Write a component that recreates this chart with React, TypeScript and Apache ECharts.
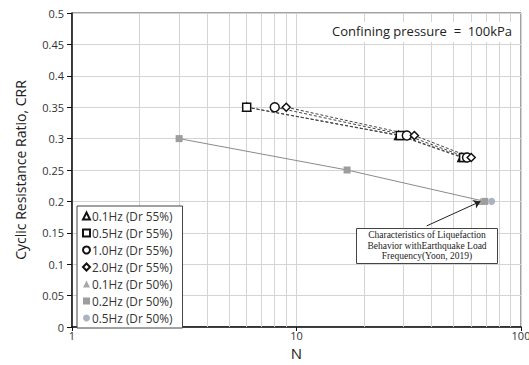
import React, { useEffect, useRef } from "react";
import * as echarts from "echarts";

const seriesNames = [
  "0.1Hz (Dr 55%)",
  "0.5Hz (Dr 55%)",
  "1.0Hz (Dr 55%)",
  "2.0Hz (Dr 55%)",
  "0.1Hz (Dr 50%)",
  "0.2Hz (Dr 50%)",
  "0.5Hz (Dr 50%)",
];

const tri55: [number, number][] = [[6, 0.35], [28.5, 0.305], [54.5, 0.27]];
const sq55: [number, number][] = [[6, 0.35], [29, 0.305], [55.5, 0.27]];
const cir55: [number, number][] = [[8, 0.35], [31, 0.305], [57.5, 0.27]];
const dia55: [number, number][] = [[9, 0.35], [33.5, 0.305], [60, 0.27]];
const tri50: [number, number][] = [[66, 0.2]];
const sq50: [number, number][] = [[3, 0.3], [16.8, 0.25], [69, 0.2]];
const cir50: [number, number][] = [[74, 0.2]];

const minorGridX = [2, 3, 4, 5, 6, 7, 8, 9, 20, 30, 40, 50, 60, 70, 80, 90];
const xTickLabels = ["1", "10", "100"];
const arrowFrom: [number, number] = [38, 0.161];
const arrowTo: [number, number] = [66, 0.2];
const annotationLines = [
  "Characteristics of Liquefaction",
  "Behavior withEarthquake Load",
  "Frequency(Yoon, 2019)",
];
const noteText = "Confining pressure  =  100kPa";

export default function App() {
  const ref = useRef<HTMLDivElement>(null);
  useEffect(() => {
    if (!ref.current) return;
    const chart = echarts.init(ref.current, undefined, { renderer: "svg" });
    const font = "Open Sans";
    const open = (sym: string, size: number, data: [number, number][], name: string) => ({
      name,
      type: "line",
      data,
      symbol: sym,
      symbolSize: size,
      showSymbol: true,
      itemStyle: { color: "#ffffff", borderColor: "#111", borderWidth: 1.5 },
      lineStyle: { color: "#444", width: 1, type: [3, 2] },
      z: 5,
    });
    const filled = (sym: string, size: number, color: string, data: [number, number][], name: string) => ({
      name,
      type: "line",
      data,
      symbol: sym,
      symbolSize: size,
      itemStyle: { color, borderWidth: 0 },
      lineStyle: { color: "#8a8a8a", width: 1 },
      z: 4,
    });
    chart.setOption({
      animation: false,
      grid: {
        left: 72,
        right: 8,
        top: 13,
        bottom: 38,
        show: true,
        borderColor: "#444",
        borderWidth: 1,
        outerBoundsMode: "none",
        containLabel: false,
      },
      xAxis: {
        type: "log",
        logBase: 10,
        min: 1,
        max: 100,
        name: "N",
        nameLocation: "middle",
        nameGap: 10,
        nameTextStyle: { fontFamily: font, fontSize: 15, color: "#222", verticalAlign: "top" },
        axisLine: { onZero: false, lineStyle: { color: "#111", width: 1.5 } },
        axisTick: { show: true, length: 4, lineStyle: { color: "#111" } },
        axisLabel: {
          fontFamily: font,
          fontSize: 11,
          color: "#333",
          margin: 3,
          formatter: (v: number) => xTickLabels[Math.round(Math.log10(v))] ?? String(v),
        },
        splitLine: { show: true, lineStyle: { color: "#d4d4d4", width: 1 } },
      },
      yAxis: {
        type: "value",
        min: 0,
        max: 0.5,
        interval: 0.05,
        name: "Cyclic Resistance Ratio, CRR",
        nameLocation: "middle",
        nameGap: 45,
        nameTextStyle: { fontFamily: font, fontSize: 14, color: "#222" },
        axisLine: { show: true, lineStyle: { color: "#111", width: 1.5 } },
        axisTick: { show: true, length: 5, lineStyle: { color: "#111" } },
        axisLabel: {
          fontFamily: font,
          fontSize: 11,
          color: "#333",
          margin: 8,
          formatter: (v: number) => String(+v.toFixed(2)),
        },
        splitLine: { show: true, lineStyle: { color: "#d4d4d4", width: 1 } },
      },
      legend: {
        orient: "vertical",
        left: 77,
        top: 206,
        z: 20,
        padding: [4, 10, 4, 5],
        itemWidth: 7,
        itemHeight: 7,
        itemGap: 5,
        selectedMode: false,
        backgroundColor: "#fff",
        borderColor: "#444",
        borderWidth: 1,
        textStyle: { fontFamily: font, fontSize: 11.8, color: "#333", padding: [0, 0, 0, -3] },
        data: [
          { name: seriesNames[0], icon: "triangle" },
          { name: seriesNames[1], icon: "rect" },
          { name: seriesNames[2], icon: "circle" },
          { name: seriesNames[3], icon: "diamond" },
          { name: seriesNames[4], icon: "triangle" },
          { name: seriesNames[5], icon: "rect" },
          { name: seriesNames[6], icon: "circle" },
        ],
      },
      series: [
        {
          type: "line",
          data: [],
          silent: true,
          z: 1,
          markLine: {
            silent: true,
            z: 1,
            symbol: ["none", "none"],
            label: { show: false },
            lineStyle: { color: "#d4d4d4", width: 1, type: "solid" },
            data: minorGridX.map((v) => ({ xAxis: v })),
          },
        },
        filled("triangle", 7, "#a8a8a8", tri50, seriesNames[4]),
        filled("rect", 7, "#9d9d9d", sq50, seriesNames[5]),
        filled("circle", 7, "#a9b3c2", cir50, seriesNames[6]),
        open("triangle", 8, tri55, seriesNames[0]),
        open("rect", 8, sq55, seriesNames[1]),
        open("circle", 9, cir55, seriesNames[2]),
        open("diamond", 8, dia55, seriesNames[3]),
        {
          type: "line",
          data: [],
          silent: true,
          markLine: {
            silent: true,
            z: 6,
            symbol: ["none", "arrow"],
            symbolSize: 7,
            label: { show: false },
            lineStyle: { color: "#222", width: 1, type: "solid" },
            data: [[{ coord: arrowFrom }, { coord: arrowTo }]],
          },
          z: 6,
        },
      ],
      graphic: [
        {
          type: "rect",
          left: 324,
          top: 22,
          z: 99,
          shape: { width: 193, height: 20 },
          style: { fill: "#fff" },
        },
        {
          type: "text",
          right: 17,
          top: 24,
          z: 100,
          style: { text: noteText, fontFamily: font, fontSize: 13, fill: "#222" },
        },
        {
          type: "group",
          left: 356,
          top: 228,
          z: 100,
          children: [
            {
              type: "rect",
              z: 100,
              shape: { x: 0, y: 0, width: 141, height: 35 },
              style: { fill: "#fff", stroke: "#444", lineWidth: 1 },
            },
            {
              type: "text",
              z: 101,
              x: 70.5,
              y: 1.5,
              style: {
                text: annotationLines.join("\n"),
                fontFamily: "Liberation Serif",
                fontSize: 9.5,
                lineHeight: 10.5,
                align: "center",
                verticalAlign: "top",
                fill: "#222",
              },
            },
          ],
        },
      ],
    });
    return () => chart.dispose();
  }, []);
  return <div ref={ref} style={{ width: 529, height: 365, position: "absolute", left: 0, top: 0 }} />;
}
